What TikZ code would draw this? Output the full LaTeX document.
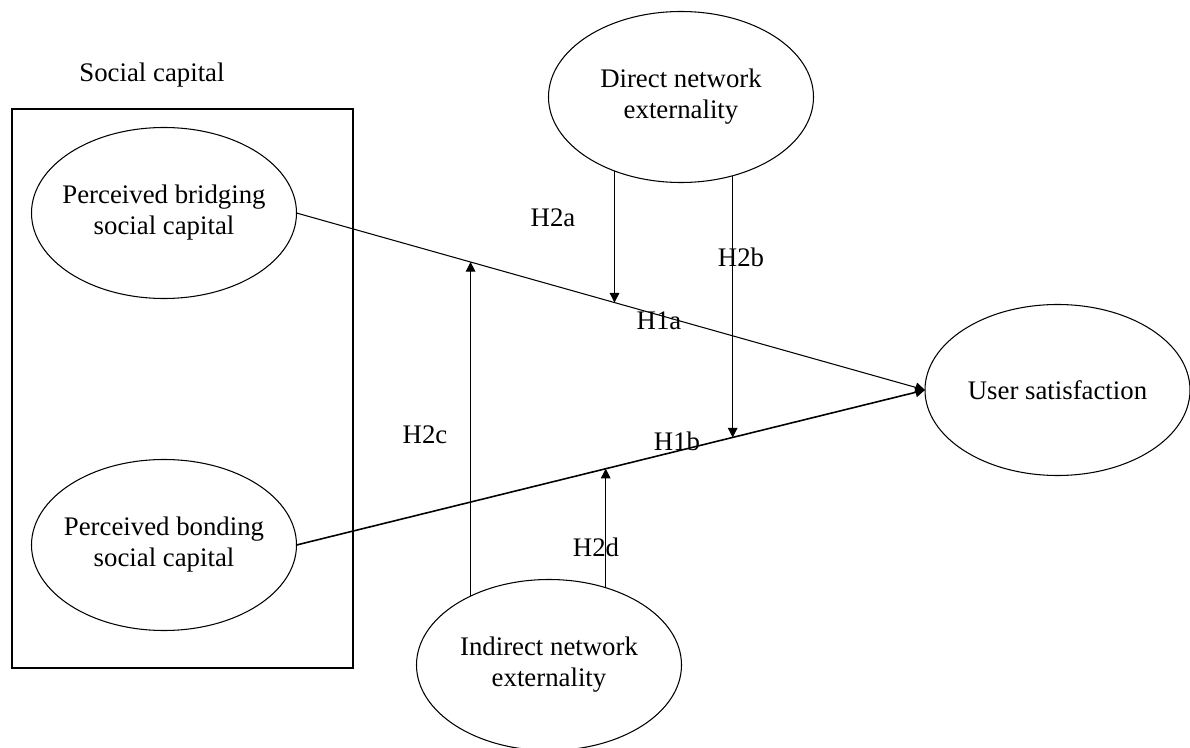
\documentclass[tikz,border=0pt]{standalone}
\usepackage{fontspec}
\setmainfont{Liberation Serif}
\usetikzlibrary{shapes.geometric,arrows.meta,calc}
\newcommand{\figfont}{\fontsize{15.25}{17.6}\selectfont}

\begin{document}
\begin{tikzpicture}[font=\figfont,line width=0.6pt,
    >={Triangle[length=5.5pt,width=5.5pt]},
    var/.style={draw,ellipse,align=center,minimum width=5.3cm,
      minimum height=3.42cm,inner xsep=-5pt,outer sep=0pt}]
     \useasboundingbox (0,0) rectangle (23.8,14.94);
     % social capital group
     \node (title) at (3.04,13.44) {Social capital};
     \draw (0.24,1.58) rectangle (7.06,12.76);
     \node[var] (bridging) at (3.28,10.68) {Perceived bridging\\social capital};
     \node[var] (bonding)  at (3.28,4.04)  {Perceived bonding\\social capital};
     % moderators and outcome
     \node[var] (direct)   at (13.62,13.00) {Direct network\\externality};
     \node[var] (indirect) at (10.98,1.64)  {Indirect network\\externality};
     \node[var] (sat)      at (21.15,7.14)  {User satisfaction};
     % main effects
     \draw[->] (bridging.east) -- (sat.west);
     \draw[->,line width=0.9pt] (bonding.east) -- (sat.west);
     % moderating effects
     \coordinate (p2a) at ($(bridging.east)!0.506!(sat.west)$);
     \coordinate (p2c) at ($(bridging.east)!0.277!(sat.west)$);
     \coordinate (p2b) at ($(bonding.east)!0.694!(sat.west)$);
     \coordinate (p2d) at ($(bonding.east)!0.492!(sat.west)$);
     \draw[->] (p2a |- direct.228.3) -- (p2a);
     \draw[->] (p2b |- direct.303.5) -- (p2b);
     \draw[->] (p2c |- indirect.138.5) -- (p2c);
     \draw[->] (p2d |- indirect.53.6) -- (p2d);
     % labels
     \node (h1a) at (13.18,8.52)  {H1a};
     \node (h1b) at (13.54,6.12)  {H1b};
     \node (h2a) at (11.06,10.58) {H2a};
     \node (h2b) at (14.82,9.80)  {H2b};
     \node (h2c) at (8.50,6.24)   {H2c};
     \node (h2d) at (11.92,4.00)  {H2d};
\end{tikzpicture}
\end{document}
